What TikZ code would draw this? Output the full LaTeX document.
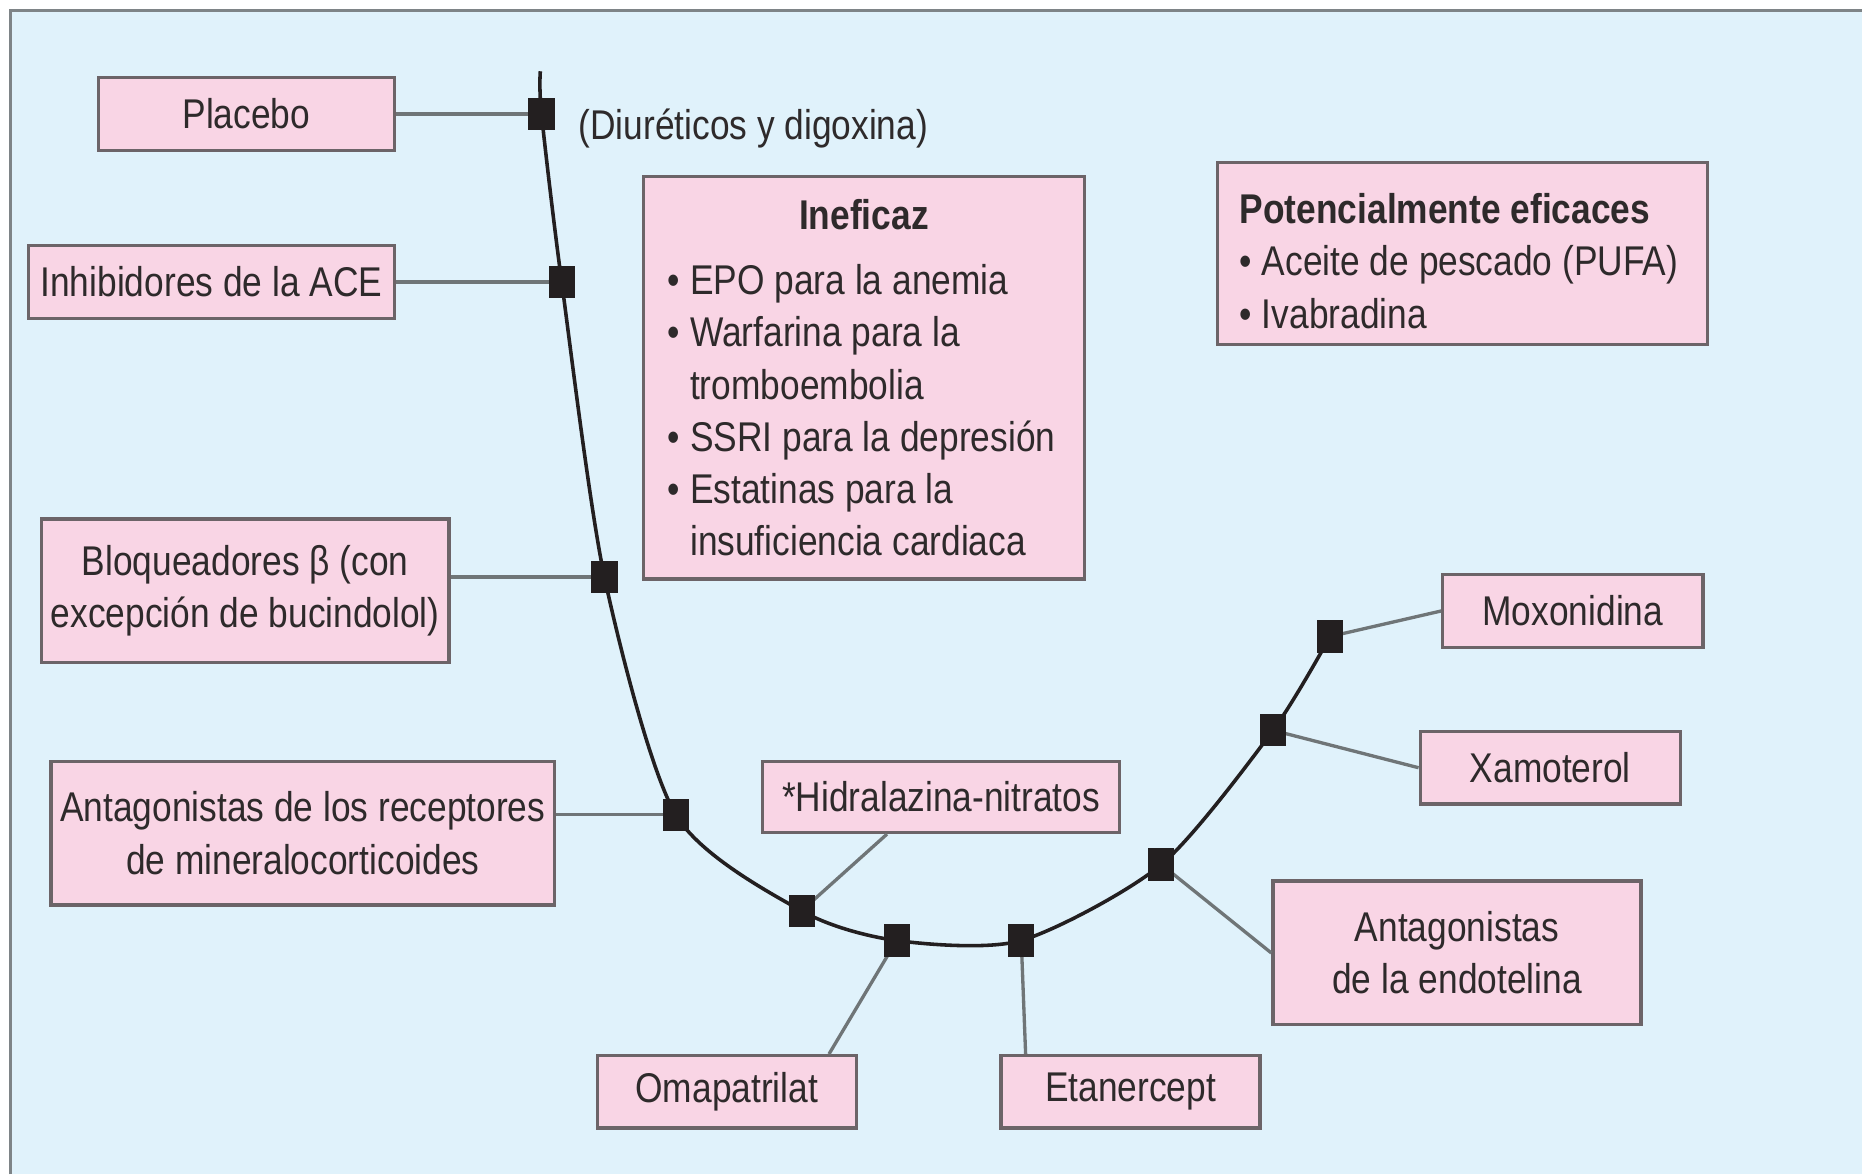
\documentclass[tikz,border=0pt]{standalone}
\usepackage{fontspec}
\setmainfont{Liberation Sans}[FakeStretch=0.85]
\usetikzlibrary{calc}
\definecolor{panelbg}{HTML}{E0F2FB}
\definecolor{panelline}{HTML}{7E8487}
\definecolor{boxfill}{HTML}{F9D5E5}
\definecolor{boxline}{HTML}{6C6468}
\definecolor{ink}{HTML}{2E2A2B}
\definecolor{markfill}{HTML}{231F20}
\definecolor{linkgray}{HTML}{6F7577}
\newcommand{\bulletindent}{\hphantom{•\ }}
\begin{document}
\begin{tikzpicture}[x=1pt,y=-1pt,
  txt/.style={text=ink, font=\fontsize{35}{44}\selectfont},
  box/.style={txt, draw=boxline, line width=2.8pt, fill=boxfill, inner sep=0pt, align=center},
  listbox/.style={box, align=flush left},
  link/.style={draw=linkgray, line width=2.8pt},
  curve/.style={draw=markfill, line width=3pt},
  marker/.style={fill=markfill, minimum width=22pt, minimum height=27pt, inner sep=0pt}]
\useasboundingbox (0,0) rectangle (1568,989);
% panel
\fill[panelbg] (9,9) rectangle (1568,989);
\draw[panelline, line width=2.5pt] (9,989) -- (9,9) -- (1568,9);

% boxes
\node[box, minimum width=249, minimum height=62] (placebo) at (207.5,96) {Placebo};
\node[box, minimum width=308, minimum height=61] (ace) at (178,237.5) {Inhibidores de la ACE};
\node[box, minimum width=343, minimum height=121] (bloq) at (206.5,497.5) {Bloqueadores β (con\\excepción de bucindolol)};
\node[box, minimum width=424, minimum height=121] (mra) at (255,701.5) {Antagonistas de los receptores\\de mineralocorticoides};
\node[listbox, minimum width=371, minimum height=339, text width=330] (inef) at (727.5,318)
  {\makebox[\linewidth][c]{\bfseries Ineficaz}\\[11pt]
   • EPO para la anemia\\
   • Warfarina para la\\
   \bulletindent tromboembolia\\
   • SSRI para la depresión\\
   • Estatinas para la\\
   \bulletindent insuficiencia cardiaca};
\node[listbox, minimum width=413, minimum height=153, text width=375] (pot) at (1231.5,213.5)
  {\rule{0pt}{38pt}{\bfseries Potencialmente eficaces}\\
   • Aceite de pescado (PUFA)\\
   • Ivabradina};
\node[box, minimum width=301, minimum height=60] (hidral) at (792.5,671) {*Hidralazina-nitratos};
\node[box, minimum width=218, minimum height=61] (omap) at (612,919.5) {Omapatrilat};
\node[box, minimum width=218, minimum height=61] (etan) at (952,919.5) {Etanercept};
\node[box, minimum width=310, minimum height=121] (endot) at (1227,802.5) {Antagonistas\\de la endotelina};
\node[box, minimum width=219, minimum height=61] (moxon) at (1324.5,514.5) {Moxonidina};
\node[box, minimum width=219, minimum height=61] (xamot) at (1305.5,646.5) {Xamoterol};

\node[txt, anchor=west, inner sep=0pt] (diur) at (487,108) {(Diuréticos y digoxina)};

% points on the curve
\coordinate (ctop) at (455,60);
\coordinate (p1) at (456,96);
\coordinate (p2) at (473,237.5);
\coordinate (p3) at (509,486);
\coordinate (p4) at (569,686);
\coordinate (p5) at (675,767);
\coordinate (p6) at (755,792);
\coordinate (p7) at (860,792);
\coordinate (p8) at (978,728);
\coordinate (p9) at (1072,615);
\coordinate (p10) at (1120,536);

\draw[curve] plot[smooth, tension=0.45] coordinates {(ctop) (p1) (p2) (p3) (p4) (p5) (p6) (p7) (p8) (p9) (p10)};

% connectors
\draw[link] (placebo.east) -- (p1);
\draw[link] (ace.east) -- (p2);
\draw[link] (bloq.east |- p3) -- (p3);
\draw[link] (mra.east |- p4) -- (p4);
\draw[link] ($(hidral.south west)!0.35!(hidral.south east)$) -- (p5);
\draw[link] ($(omap.north west)!0.89!(omap.north east)$) -- (p6);
\draw[link] ($(etan.north west)!0.1!(etan.north east)$) -- (p7);
\draw[link] (endot.west) -- (p8);
\draw[link] (xamot.west) -- (p9);
\draw[link] (moxon.west) -- (p10);

% markers
\foreach \i in {1,...,10} {\node[marker] (mk\i) at (p\i) {};}
\end{tikzpicture}
\end{document}
